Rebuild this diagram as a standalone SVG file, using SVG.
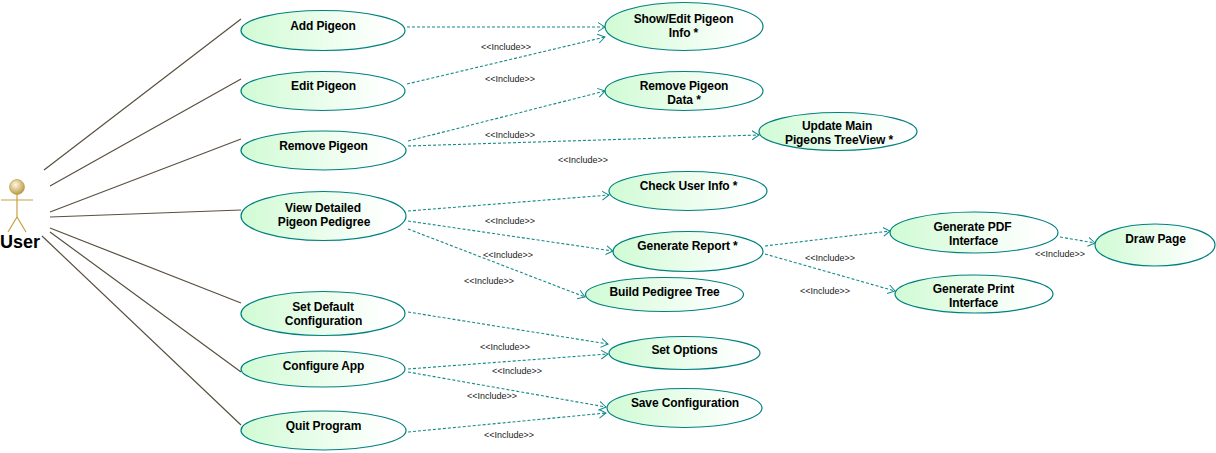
<svg xmlns="http://www.w3.org/2000/svg" width="1216" height="453" viewBox="0 0 1216 453">
<style>
.n ellipse{fill:url(#g);stroke:#008080;stroke-width:1.2}
.n text{font:bold 12px "Liberation Sans",Arial,sans-serif;fill:#000;text-anchor:middle;letter-spacing:-.1px}
.a{stroke:#5a5040;stroke-width:1.2;fill:none}
.d{stroke:#138a8a;stroke-width:1.1;fill:none;stroke-dasharray:3 2;marker-end:url(#m)}
.l{font:9px "Liberation Sans",Arial,sans-serif;fill:#222;text-anchor:middle}
</style>
<defs>
<linearGradient id="g"><stop offset="0" stop-color="#d0fbd4"/><stop offset=".9" stop-color="#fff"/></linearGradient>
<radialGradient id="h" cx=".4" cy=".35" r=".7"><stop offset="0" stop-color="#fff8e0"/><stop offset="1" stop-color="#b8923c"/></radialGradient>
<marker id="m" markerWidth="10" markerHeight="12" refX="7" refY="5" orient="auto" markerUnits="userSpaceOnUse"><path d="M0 .5L7 5L0 9.500" fill="none" stroke="#138a8a" stroke-width="1"/></marker>
</defs>
<g id="user">
<circle cx="17" cy="187" r="7.500" fill="url(#h)" stroke="#b8923c" stroke-width=".6"/>
<path d="M17 194V217M1 200H33M17 217L8 232M17 217L26 232" stroke="#c8a040" stroke-width="1.2" fill="none"/>
<text x="20" y="248" style="font:bold 18px 'Liberation Sans',Arial,sans-serif" text-anchor="middle">User</text>
</g>
<g id="add-pigeon" class="n"><ellipse cx="323" cy="30.500" rx="82" ry="20"/><text x="323" y="30">Add Pigeon</text></g>
<g id="edit-pigeon" class="n"><ellipse cx="323" cy="91" rx="82" ry="19.500"/><text x="323.500" y="90">Edit Pigeon</text></g>
<g id="remove-pigeon" class="n"><ellipse cx="323.500" cy="150.500" rx="82.500" ry="19.500"/><text x="323.500" y="150">Remove Pigeon</text></g>
<g id="view-detailed" class="n"><ellipse cx="323.500" cy="216" rx="82.500" ry="24.500"/><text x="323" y="212">View Detailed</text><text x="324" y="226">Pigeon Pedigree</text></g>
<g id="set-default" class="n"><ellipse cx="323" cy="313.500" rx="82" ry="22"/><text x="323" y="311">Set Default</text><text x="323.500" y="325">Configuration</text></g>
<g id="configure-app" class="n"><ellipse cx="323" cy="369" rx="82" ry="18"/><text x="323.500" y="370">Configure App</text></g>
<g id="quit-program" class="n"><ellipse cx="323.500" cy="430.500" rx="82.500" ry="19.500"/><text x="323.500" y="430">Quit Program</text></g>
<g id="show-edit" class="n"><ellipse cx="684" cy="26.500" rx="79" ry="24"/><text x="683.500" y="23">Show/Edit Pigeon</text><text x="683.500" y="37">Info *</text></g>
<g id="remove-data" class="n"><ellipse cx="684" cy="91" rx="79" ry="19.500"/><text x="684" y="90">Remove Pigeon</text><text x="684" y="104">Data *</text></g>
<g id="update-main" class="n"><ellipse cx="838" cy="131.500" rx="79" ry="19"/><text x="837" y="130">Update Main</text><text x="839" y="144">Pigeons TreeView *</text></g>
<g id="check-user" class="n"><ellipse cx="688" cy="191" rx="79" ry="19.500"/><text x="688.500" y="190">Check User Info *</text></g>
<g id="generate-report" class="n"><ellipse cx="688" cy="251.500" rx="75" ry="20"/><text x="687.500" y="250">Generate Report *</text></g>
<g id="build-tree" class="n"><ellipse cx="664.500" cy="294.500" rx="79" ry="17"/><text x="664.500" y="296">Build Pedigree Tree</text></g>
<g id="generate-pdf" class="n"><ellipse cx="974" cy="232.500" rx="84" ry="20.500"/><text x="972.500" y="231">Generate PDF</text><text x="973.500" y="245">Interface</text></g>
<g id="generate-print" class="n"><ellipse cx="974" cy="294" rx="79" ry="19"/><text x="973.500" y="293">Generate Print</text><text x="973.500" y="307">Interface</text></g>
<g id="draw-page" class="n"><ellipse cx="1155" cy="245" rx="60" ry="21"/><text x="1155.500" y="243">Draw Page</text></g>
<g id="set-options" class="n"><ellipse cx="684.500" cy="353" rx="75.500" ry="16.500"/><text x="684.500" y="354">Set Options</text></g>
<g id="save-config" class="n"><ellipse cx="684.500" cy="408" rx="77.500" ry="19.500"/><text x="685" y="407">Save Configuration</text></g>
<g id="connectors">
<path class="a" d="M44 170L241 19M50 186L241 79M50 212L241 139M50 217L241 210M50 228L241 303M50 232L241 372M42 236L241 425"/>
<path class="d" d="M407 27L605 27"/>
<path class="d" d="M407 84L605 37"/>
<path class="d" d="M408 141L605 91"/>
<path class="d" d="M408 146L759 135"/>
<path class="d" d="M408 211L609 195"/>
<path class="d" d="M408 221L613 251"/>
<path class="d" d="M408 229L585 297"/>
<path class="d" d="M765 246L890 231"/>
<path class="d" d="M765 254L895 291"/>
<path class="d" d="M1060 237L1095 243"/>
<path class="d" d="M408 312L608 344"/>
<path class="d" d="M408 369L608 354"/>
<path class="d" d="M408 372L606 407"/>
<path class="d" d="M408 432L606 413"/>
<text class="l" x="506" y="50">&lt;&lt;Include&gt;&gt;</text>
<text class="l" x="510" y="82">&lt;&lt;Include&gt;&gt;</text>
<text class="l" x="510" y="138">&lt;&lt;Include&gt;&gt;</text>
<text class="l" x="583" y="163">&lt;&lt;Include&gt;&gt;</text>
<text class="l" x="510" y="224">&lt;&lt;Include&gt;&gt;</text>
<text class="l" x="508" y="258">&lt;&lt;Include&gt;&gt;</text>
<text class="l" x="489" y="284">&lt;&lt;Include&gt;&gt;</text>
<text class="l" x="830" y="261">&lt;&lt;Include&gt;&gt;</text>
<text class="l" x="825" y="294">&lt;&lt;Include&gt;&gt;</text>
<text class="l" x="1060" y="257">&lt;&lt;Include&gt;&gt;</text>
<text class="l" x="505" y="350">&lt;&lt;Include&gt;&gt;</text>
<text class="l" x="517" y="374">&lt;&lt;Include&gt;&gt;</text>
<text class="l" x="492" y="399">&lt;&lt;Include&gt;&gt;</text>
<text class="l" x="509" y="438">&lt;&lt;Include&gt;&gt;</text>
</g>
</svg>
